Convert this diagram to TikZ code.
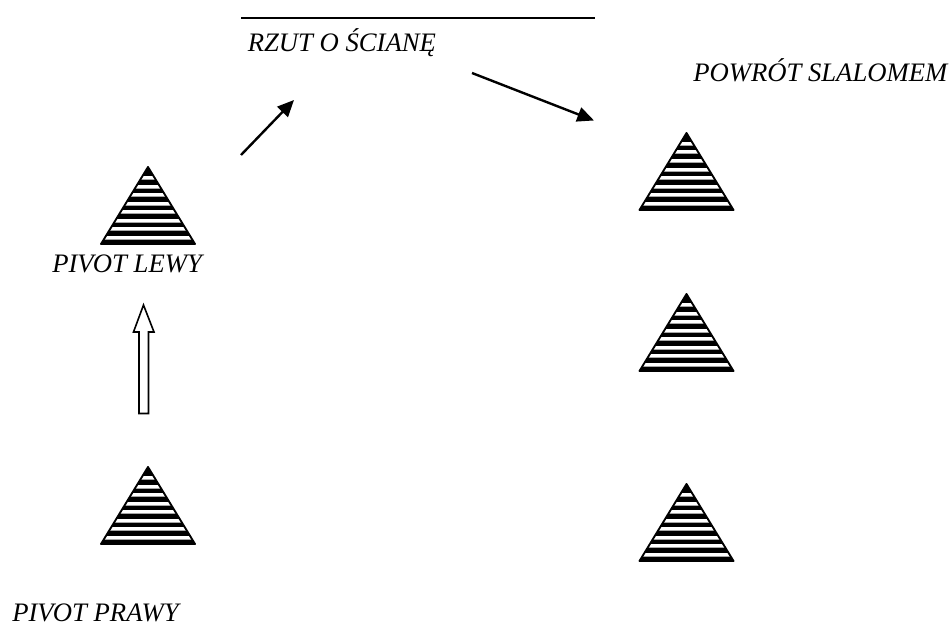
\documentclass[tikz,border=0pt]{standalone}
\usepackage{fontspec}
\setmainfont{Liberation Serif}
\usetikzlibrary{arrows.meta}
\tikzset{
  lbl/.style={font=\fontsize{20pt}{24pt}\selectfont\itshape,anchor=base west,inner sep=0pt,text=black},
  thinarrow/.style={line width=1.8pt,-{Triangle[length=12.5pt,width=11pt]}},
  pivot/.pic={
    \fill[black] (-47,-77) -- (0,0) -- (47,-77) -- cycle;
    \begin{scope}
      \clip (-47,-77) -- (0,0) -- (47,-77) -- cycle;
      \foreach \y in {-9,-17.5,...,-70}{
        \fill[white] (-48,\y) rectangle (48,\y-3);
        \fill[black!35] (-48,\y-3) rectangle (48,\y-4);
      }
    \end{scope}
    \draw[line width=1.4pt,line join=round] (-47,-77) -- (0,0) -- (47,-77) -- cycle;
  }
}
\begin{document}
\begin{tikzpicture}[x=0.75pt,y=-0.75pt]
\useasboundingbox (0,0) rectangle (952,624);
\fill[white] (0,0) rectangle (952,624);
\pic (tl) at (148,167) [yscale=-1] {pivot};
\pic (bl) at (148,467) [yscale=-1] {pivot};
\pic (tr) at (686.5,133) [yscale=-1] {pivot};
\pic (mr) at (686.5,294) [yscale=-1] {pivot};
\pic (br) at (686.5,484) [yscale=-1] {pivot};
\node[lbl] (pl) at (52,272) {PIVOT LEWY};
\node[lbl] (pp) at (12,621) {PIVOT PRAWY};
\node[lbl] (rz) at (247.5,52) {RZUT O ŚCIANĘ};
\node[lbl] (ps) at (693,82) {POWRÓT SLALOMEM};
\coordinate (w1) at (241,18);
\coordinate (w2) at (595,18);
\draw[line width=1.4pt] (w1) -- (w2);
\coordinate (a1) at (241,155);
\coordinate (a2) at (294,100);
\coordinate (b1) at (472,73);
\coordinate (b2) at (594,120.5);
\draw[thinarrow] (a1) -- (a2);
\draw[thinarrow] (b1) -- (b2);
\draw[line width=1.2pt,line join=miter,fill=white] (143.5,305) -- (154,332) -- (148.5,332) -- (148.5,413.5) -- (139,413.5) -- (139,332) -- (133.5,332) -- cycle;
\end{tikzpicture}
\end{document}
